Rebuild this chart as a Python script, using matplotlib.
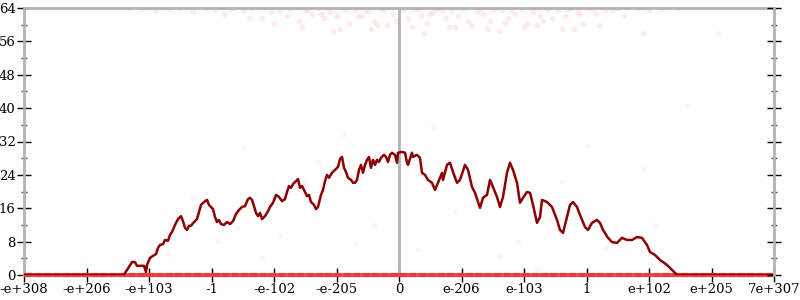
import matplotlib
matplotlib.use("Agg")
import matplotlib.pyplot as plt
from matplotlib.patches import Rectangle
from matplotlib.ticker import MultipleLocator, FixedLocator

# x in tick units (0 = zero, +-6 = largest doubles), y = bits of error
tick_labels = ["-e+308", "-e+206", "-e+103", "-1", "-e-102", "-e-205", "0",
               "e-206", "e-103", "1", "e+102", "e+205", "7e+307"]
tick_pos = [-6, -5, -4, -3, -2, -1, 0, 1, 2, 3, 4, 5, 6]

line_x = [-6.0, -4.40, -4.384, -4.352, -4.272, -4.224, -4.192, -4.08, -4.048, -4.032,
          -3.984, -3.936, -3.888, -3.856, -3.824, -3.776, -3.744, -3.696, -3.664, -3.632,
          -3.584, -3.536, -3.488, -3.456, -3.424, -3.392, -3.36, -3.328, -3.28, -3.232,
          -3.2, -3.168, -3.12, -3.072, -3.04, -3.008, -2.976, -2.944, -2.912, -2.88,
          -2.848, -2.8, -2.752, -2.704, -2.656, -2.608, -2.56, -2.512, -2.464, -2.416,
          -2.384, -2.352, -2.32, -2.288, -2.256, -2.224, -2.192, -2.144, -2.096, -2.064,
          -2.016, -1.968, -1.92, -1.872, -1.824, -1.792, -1.76, -1.728, -1.696, -1.648,
          -1.616, -1.584, -1.552, -1.52, -1.472, -1.44, -1.408, -1.36, -1.328, -1.296,
          -1.248, -1.216, -1.184, -1.152, -1.12, -1.072, -1.024, -0.976, -0.944, -0.912,
          -0.88, -0.848, -0.816, -0.768, -0.736, -0.704, -0.672, -0.64, -0.608, -0.576,
          -0.544, -0.512, -0.48, -0.448, -0.416, -0.384, -0.352, -0.32, -0.288, -0.24,
          -0.208, -0.176, -0.144, -0.112, -0.064, -0.032, -0.016, 0.048, 0.096, 0.128,
          0.144, 0.208, 0.224, 0.288, 0.336, 0.368, 0.416, 0.464, 0.528, 0.576,
          0.624, 0.688, 0.704, 0.768, 0.816, 0.864, 0.928, 0.976, 1.056, 1.104,
          1.168, 1.216, 1.296, 1.344, 1.408, 1.456, 1.504, 1.568, 1.616, 1.664,
          1.728, 1.776, 1.824, 1.888, 1.936, 1.984, 2.048, 2.096, 2.144, 2.208,
          2.256, 2.288, 2.368, 2.448, 2.528, 2.576, 2.624, 2.688, 2.736, 2.784,
          2.848, 2.896, 2.976, 3.024, 3.088, 3.168, 3.216, 3.264, 3.344, 3.408,
          3.488, 3.568, 3.648, 3.728, 3.808, 3.888, 3.968, 4.016, 4.096, 4.176,
          4.224, 4.288, 4.336, 4.416, 4.448, 6.0]
line_y = [0, 0, 0.5, 1.2, 3.1, 3.1, 2.2, 2.2, 0.7, 2.4,
          4.1, 4.6, 5.0, 6.5, 7.2, 7.4, 8.4, 8.2, 9.6, 10.3,
          12.0, 13.4, 14.1, 12.9, 11.3, 10.8, 11.8, 11.8, 12.7, 13.4,
          15.1, 16.8, 17.5, 18.0, 16.8, 16.3, 15.8, 13.9, 12.7, 13.2,
          12.2, 12.0, 12.7, 12.2, 12.9, 14.6, 15.6, 16.3, 16.5, 18.2,
          18.5, 18.0, 16.5, 14.9, 14.1, 14.9, 13.4, 14.1, 15.3, 16.3,
          17.3, 19.2, 18.7, 17.7, 18.2, 19.9, 21.3, 20.9, 21.8, 22.5,
          23.0, 20.9, 21.3, 20.4, 18.9, 19.2, 17.5, 16.8, 15.8, 16.3,
          19.2, 20.4, 22.5, 24.0, 23.3, 24.5, 25.2, 25.9, 27.8, 28.3,
          25.7, 24.7, 23.3, 22.8, 22.1, 22.1, 22.8, 25.2, 26.4, 24.5,
          26.4, 27.6, 28.3, 25.7, 27.6, 26.4, 27.6, 27.1, 28.1, 28.8,
          28.3, 27.1, 28.8, 29.3, 28.8, 26.9, 29.3, 29.5, 29.3, 26.9,
          26.4, 29.3, 28.3, 28.8, 28.1, 24.5, 24.0, 22.8, 22.1, 20.4,
          22.1, 24.5, 22.8, 26.4, 26.9, 24.7, 22.1, 22.8, 26.4, 25.2,
          21.1, 19.7, 16.1, 18.5, 19.2, 22.8, 21.1, 18.7, 16.3, 18.7,
          24.5, 26.9, 25.2, 22.1, 17.3, 18.5, 19.9, 19.7, 16.8, 12.5,
          13.9, 18.0, 17.5, 16.3, 13.2, 10.8, 10.1, 13.9, 16.8, 17.5,
          16.3, 14.4, 11.5, 10.8, 12.5, 13.2, 12.5, 10.8, 8.9, 7.9,
          7.7, 8.9, 8.4, 8.4, 9.1, 8.9, 7.2, 5.5, 4.8, 3.6,
          3.1, 2.4, 1.7, 0.5, 0, 0]

# sampled points with zero error (dense band along the bottom)
zero_x = [-6.0, -5.85, -5.7, -5.55, -5.4, -5.25, -5.1, -4.95, -4.8, -4.65,
          -4.5, -4.35, -4.2, -4.05, -3.9, -3.75, -3.6, -3.45, -3.3, -3.15,
          -3.0, -2.85, -2.7, -2.55, -2.4, -2.25, -2.1, -1.95, -1.8, -1.65,
          -1.5, -1.35, -1.2, -1.05, -0.9, -0.75, -0.6, -0.45, -0.3, -0.15,
          0.0, 0.15, 0.3, 0.45, 0.6, 0.75, 0.9, 1.05, 1.2, 1.35,
          1.5, 1.65, 1.8, 1.95, 2.1, 2.25, 2.4, 2.55, 2.7, 2.85,
          3.0, 3.15, 3.3, 3.45, 3.6, 3.75, 3.9, 4.05, 4.2, 4.35,
          4.5, 4.65, 4.8, 4.95, 5.1, 5.25, 5.4, 5.55, 5.7, 5.85, 6.0]

# sampled points with (near) maximal error, clustered at the top
top_x = [-4.3, -4.1, -3.9, -3.7, -3.5, -3.3, -3.1, -2.95, -2.8, -2.65,
         -2.5, -2.35, -2.2, -2.05, -1.9, -1.8, -1.7, -1.6, -1.5, -1.4,
         -1.3, -1.2, -1.1, -1.0, -0.9, -0.8, -0.7, -0.6, -0.5, -0.4,
         -0.3, -0.2, -0.1, 0.05, 0.15, 0.25, 0.35, 0.45, 0.55, 0.65,
         0.75, 0.85, 0.95, 1.05, 1.15, 1.25, 1.35, 1.45, 1.55, 1.65,
         1.75, 1.85, 1.95, 2.05, 2.15, 2.25, 2.35, 2.45, 2.55, 2.65,
         2.75, 2.85, 2.95, 3.05, 3.15, 3.3, 3.45, 3.6, 3.8, 4.0,
         4.2, 4.45, -1.55, -1.25, -0.95, -0.65, -0.35, -0.05, 0.2, 0.5,
         0.8, 1.1, 1.4, 1.7, 2.0, 2.3, 2.6, 2.9, 3.2, -2.4,
         -2.0, -1.05, -0.45, 0.4, 0.9, 1.6, 2.2, 2.8, 3.4, 3.9,
         -1.75, -1.45, -1.15, -0.85, -0.55, -0.25, 0.1, 0.3, 0.6, 0.7,
         1.0, 1.3, 1.5, 1.8, 2.1, 2.4, 2.7, 3.1, 3.5, -2.7]
top_y = [64, 64, 63.5, 64, 64, 63, 64, 63.5, 62.5, 64,
         63.5, 64, 61.5, 63, 63.5, 62, 64, 61, 63.5, 62.5,
         64, 61.5, 63, 62, 64, 60.5, 63.5, 62, 63, 61,
         64, 60, 62.5, 63.5, 61.5, 64, 62, 60.5, 63, 64,
         61.5, 63.5, 62, 64, 60, 63, 62.5, 61, 64, 63.5,
         61.5, 62.5, 64, 60.5, 63, 62, 64, 61.5, 63.5, 62,
         64, 63, 60.5, 64, 62.5, 63.5, 64, 62, 64, 63.5,
         64, 64, 59.5, 62.5, 59, 62, 60, 61, 59.5, 62.5,
         59.5, 61, 59, 60.5, 59.5, 61, 59, 62.5, 60, 61.5,
         60.5, 58.5, 59, 58, 59.5, 58.5, 60, 59, 63.5, 58,
         63.8, 63.6, 63.9, 63.7, 63.8, 63.6, 63.9, 63.7, 63.8, 63.6,
         63.9, 63.7, 63.8, 63.6, 63.9, 63.7, 63.8, 63.6, 63.9, 63.8]

# scattered points with intermediate error
mid_x = [-4.3, -3.7, -3.3, -2.9, -2.5, -2.6, -2.2, -1.9, -1.5, -1.3,
         -0.9, -0.7, -0.4, 0.3, 0.55, 0.9, 1.2, 1.6, 1.9, 2.4,
         2.6, 3.0, 3.3, 3.7, 4.1, 4.6, 5.1, -5.0, 3.9, 2.2]
mid_y = [3.5, 5.0, 18.5, 8.0, 30.5, 11.5, 4.0, 9.5, 22.0, 27.0,
         33.5, 7.5, 12.0, 6.0, 35.5, 15.0, 22.0, 4.5, 8.0, 13.5,
         22.5, 31.0, 6.5, 10.0, 12.0, 40.5, 58.0, 2.5, 25.5, 1.5]

grey = "#b3b3b3"
font = {"family": "DejaVu Serif", "size": 9.5}

fig = plt.figure(figsize=(8, 3), dpi=100)
ax = fig.add_axes([24 / 800, 25 / 300, 750 / 800, 267 / 300])

# clip region: the plot width, but a little taller so the y=0 band is not cut in half
clip = Rectangle((0, -0.03), 1, 1.06, transform=ax.transAxes, visible=False)
ax.add_patch(clip)

zero_band, = ax.plot(zero_x, [0] * len(zero_x), linestyle="none", marker="_",
                     markersize=11, markeredgewidth=3, color="#e83a3a", alpha=0.85,
                     zorder=2.6)
zero_band.set_clip_path(clip)
ax.scatter(top_x, top_y, s=16, color="#ff2020", alpha=0.09, linewidths=0, zorder=2)
ax.scatter(mid_x, mid_y, s=14, color="#ff2020", alpha=0.05, linewidths=0, zorder=2)
ax.plot(line_x, line_y, color="#8b0000", linewidth=1.8, zorder=3)

ax.set_xlim(-6, 6)
ax.set_ylim(0, 64)

for side in ["left", "right", "top", "bottom"]:
    ax.spines[side].set_color(grey)
    ax.spines[side].set_linewidth(2)
ax.spines["right"].set_position(("data", 0))

ax.xaxis.set_major_locator(FixedLocator(tick_pos))
ax.set_xticklabels(tick_labels, fontdict=font)
ax.yaxis.set_major_locator(MultipleLocator(8))
ax.yaxis.set_minor_locator(MultipleLocator(4))
ax.tick_params(axis="x", direction="inout", length=10, width=1, color="black",
               pad=1, top=False)
ax.tick_params(axis="y", which="major", direction="inout", length=10, width=1,
               color="black", pad=1, right=True)
ax.tick_params(axis="y", which="minor", direction="inout", length=5, width=1,
               color="#555555", right=True)
for lab in ax.get_yticklabels():
    lab.set_fontfamily("DejaVu Serif")
    lab.set_fontsize(9.5)

# second vertical axis at the far right edge
ax2 = ax.twinx()
ax2.set_ylim(0, 64)
for side in ["left", "top", "bottom"]:
    ax2.spines[side].set_visible(False)
ax2.spines["right"].set_color(grey)
ax2.spines["right"].set_linewidth(2)
ax2.yaxis.set_major_locator(MultipleLocator(8))
ax2.yaxis.set_minor_locator(MultipleLocator(4))
ax2.tick_params(axis="y", which="major", direction="inout", length=10, width=1,
                color="black", labelright=False)
ax2.tick_params(axis="y", which="minor", direction="inout", length=5, width=1,
                color="#555555")

fig.savefig("out.png", dpi=100)
